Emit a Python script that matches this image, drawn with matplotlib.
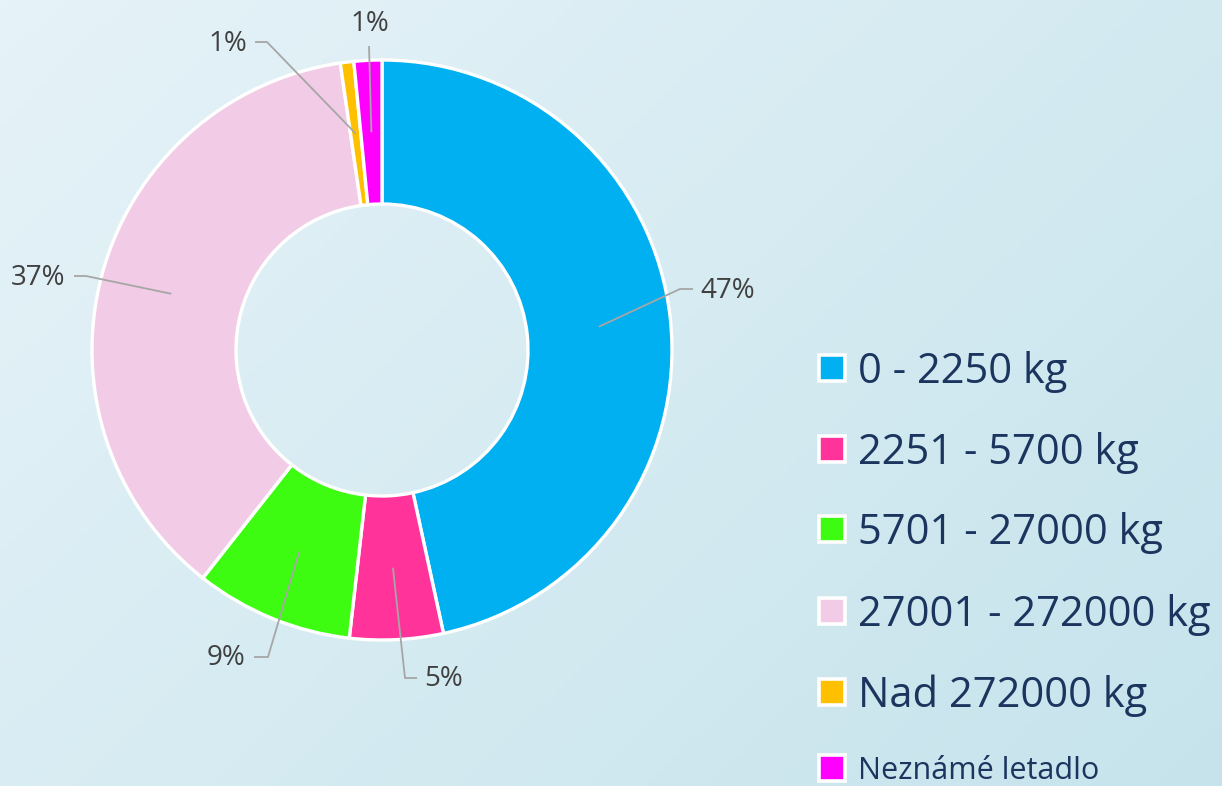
import numpy as np
import matplotlib
matplotlib.use('Agg')
import matplotlib.pyplot as plt
from matplotlib.patches import Rectangle
from matplotlib.colors import LinearSegmentedColormap

# data (share in %)
categories = ['0 - 2250 kg', '2251 - 5700 kg', '5701 - 27000 kg',
              '27001 - 272000 kg', 'Nad 272000 kg', 'Neznámé letadlo']
shares = [46.6, 5.2, 8.8, 37.1, 0.75, 1.55]
pct_labels = ['47%', '5%', '9%', '37%', '1%', '1%']
colors = ['#00B0F0', '#FF3399', '#3DFC12', '#F2CCE6', '#FFC000', '#FF00FF']

W, H = 1222, 786
cx, cy = 382, 350          # donut centre in pixels (y from top)
r_out, r_in = 290, 146

# label text position (pixels, y from top) and the small elbow of each leader
label_pos = [(728, 291), (444, 679), (226, 658), (38, 278), (228, 44), (370, 24)]
elbow = [(680, 289), (405, 678), (268, 657), (86, 276), (267, 42), (369, 46)]
elbow_end = [(693, 289), (417, 678), (254, 657), (74, 276), (255, 42), None]

fig = plt.figure(figsize=(W / 100, H / 100), dpi=100)
ax = fig.add_axes([0, 0, 1, 1])

# background gradient
gx, gy = np.meshgrid(np.linspace(0, 1, 300), np.linspace(0, 1, 200))
grad = (gx * 0.6 + gy * 0.4)
cmap = LinearSegmentedColormap.from_list('bg', ['#E6F3F8', '#C6E3EC'])
ax.imshow(grad, extent=(0, W, 0, H), origin='upper', cmap=cmap, aspect='auto', zorder=0)

wedges, _ = ax.pie(shares, colors=colors, startangle=90, counterclock=False,
                   center=(cx, H - cy), radius=r_out,
                   wedgeprops=dict(width=r_out - r_in, edgecolor='white', linewidth=2.4))
for w in wedges:
    w.set_zorder(2)

# data labels with leader lines
total = sum(shares)
start = 0.0
r_mid = (r_out + r_in) / 2
for i, s in enumerate(shares):
    mid = (start + s / 2) / total * 2 * np.pi
    start += s
    ax_x = cx + r_mid * np.sin(mid)
    ax_y = cy - r_mid * np.cos(mid)
    ex, ey = elbow[i]
    xs = [ax_x, ex]
    ys = [ax_y, ey]
    if elbow_end[i] is not None:
        xs.append(elbow_end[i][0])
        ys.append(elbow_end[i][1])
    ax.plot(xs, [H - v for v in ys], color='#A6A6A6', lw=1.3, zorder=3,
            solid_capstyle='butt')
    tx, ty = label_pos[i]
    ax.text(tx, H - ty, pct_labels[i], fontsize=20, family='Open Sans',
            color='#404040', ha='center', va='center', zorder=4)

# legend
leg_y = [368, 449, 529, 611, 692, 768]
for i, name in enumerate(categories):
    y = leg_y[i]
    ax.add_patch(Rectangle((819, H - y - 13), 26, 26, facecolor=colors[i],
                           edgecolor='white', linewidth=2.6, zorder=3))
    fs = 30 if i < 5 else 22
    cap = 0.714 * fs * 100 / 72
    ax.text(858, H - (y + cap / 2), name, fontsize=fs, family='Open Sans',
            color='#1B355E', ha='left', va='baseline', zorder=4)

ax.set_xlim(0, W)
ax.set_ylim(0, H)
ax.set_aspect('auto')
ax.axis('off')

fig.savefig('out.png', dpi=100)
